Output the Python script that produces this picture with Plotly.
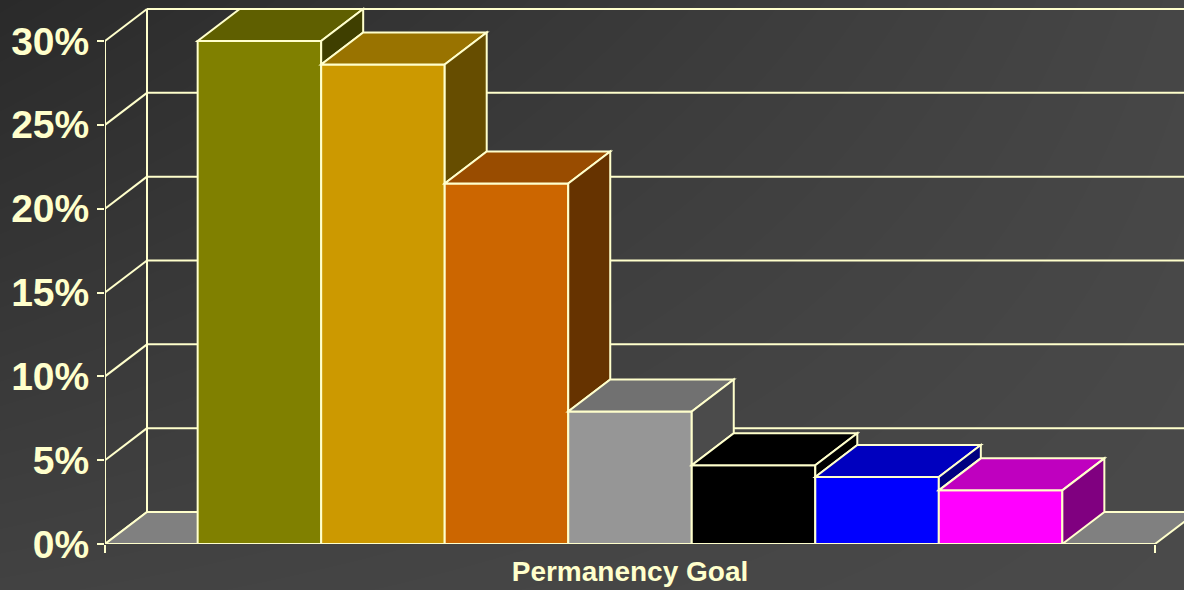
import plotly.graph_objects as go

# ---- data ----
category = ["Permanency Goal"]
series_names = ["Reunification", "Adoption", "Long-term foster care", "Guardianship",
                "Emancipation", "Relative placement", "Other"]
values = [30.0, 28.6, 21.5, 7.9, 4.7, 4.0, 3.2]
y_ticks = [0, 5, 10, 15, 20, 25, 30]

# ---- style ----
front_colors = ["#808000", "#CC9900", "#CC6600", "#969696", "#000000", "#0000FF", "#FF00FF"]
top_colors = ["#5F5F00", "#997300", "#994C00", "#717171", "#000000", "#0000BF", "#BF00BF"]
side_colors = ["#3F3F00", "#664D00", "#663300", "#4B4B4B", "#000000", "#000080", "#800080"]
edge = "#FFFFCC"
W, H = 1184, 590
L_PX, B_PX = 105, 46              # plot-area left / bottom offsets
CAT_PX = 1050                      # pixel width of the single category
PX_PER_PCT = (544 - 41) / 30.0
DEPTH_X_PX, DEPTH_Y_PX = 42, 32
bg_corners = {"tl": 42, "tr": 70, "bl": 66, "br": 74}

bargap = 1.5 / 8.5
n = len(values)
bw = (1 - bargap) / n
DX = DEPTH_X_PX / CAT_PX
DY = DEPTH_Y_PX / PX_PER_PCT
x_right = -0.5 + (W - L_PX) / CAT_PX
y_top = (H - B_PX) / PX_PER_PCT

fig = go.Figure()

# background gradient
fig.add_trace(go.Heatmap(
    x=[0, 1], y=[0, 1],
    z=[[bg_corners["bl"], bg_corners["br"]], [bg_corners["tl"], bg_corners["tr"]]],
    zsmooth="best", zmin=0, zmax=255,
    colorscale=[[0, "rgb(0,0,0)"], [1, "rgb(255,255,255)"]],
    showscale=False, hoverinfo="skip", xaxis="x", yaxis="y"))

for name, v, c in zip(series_names, values, front_colors):
    fig.add_trace(go.Bar(
        x=category, y=[v], name=name, marker=dict(color=c, line=dict(color=edge, width=2)),
        xaxis="x2", yaxis="y2", showlegend=False))

shapes = []
ln = dict(color=edge, width=2)
x0w = -0.5
# back wall & side wall lines
for t in y_ticks:
    shapes.append(dict(type="line", xref="x2", yref="y2", x0=x0w, y0=t, x1=x0w + DX, y1=t + DY,
                       line=ln, layer="below"))
    if t > 0:
        shapes.append(dict(type="line", xref="x2", yref="y2", x0=x0w + DX, y0=t + DY,
                           x1=x_right + 0.05, y1=t + DY, line=ln, layer="below"))
shapes.append(dict(type="line", xref="x2", yref="y2", x0=x0w + DX, y0=DY, x1=x0w + DX,
                   y1=y_ticks[-1] + DY, line=ln, layer="below"))
shapes.append(dict(type="line", xref="x2", yref="y2", x0=x0w, y0=0, x1=x0w,
                   y1=y_ticks[-1], line=ln, layer="below"))
# floor
shapes.append(dict(type="path", xref="x2", yref="y2",
                   path=f"M{x0w},0 L0.5,0 L{0.5 + DX},{DY} L{x0w + DX},{DY} Z",
                   fillcolor="#808080", line=ln, layer="below"))

# bar tops and sides
for i, v in enumerate(values):
    xl = -0.5 + bargap / 2 + i * bw
    xr = xl + bw
    shapes.append(dict(type="path", xref="x2", yref="y2",
                       path=f"M{xl},{v} L{xr},{v} L{xr + DX},{v + DY} L{xl + DX},{v + DY} Z",
                       fillcolor=top_colors[i], line=ln, layer="above"))
    vn = values[i + 1] if i + 1 < n else None
    if vn is not None and vn < v:
        path = f"M{xr},{vn} L{xr},{v} L{xr + DX},{v + DY} L{xr + DX},{vn + DY} Z"
    else:
        path = f"M{xr},0 L{xr},{v} L{xr + DX},{v + DY} L{xr + DX},{DY} Z"
    shapes.append(dict(type="path", xref="x2", yref="y2", path=path,
                       fillcolor=side_colors[i], line=ln, layer="above"))

font_fam = "Liberation Sans, Arial, sans-serif"
fig.update_layout(
    width=W, height=H, autosize=False,
    margin=dict(l=0, r=0, t=0, b=0, pad=0),
    paper_bgcolor="#3A3A3A", plot_bgcolor="rgba(0,0,0,0)",
    barmode="group", bargap=bargap, bargroupgap=0,
    shapes=shapes,
    xaxis=dict(domain=[0, 1], range=[0, 1], visible=False, fixedrange=True, automargin=False),
    yaxis=dict(domain=[0, 1], range=[0, 1], visible=False, fixedrange=True, automargin=False),
    xaxis2=dict(domain=[L_PX / W, 1], range=[-0.5, x_right], type="category",
                anchor="y2", showgrid=False, zeroline=False, showline=False, automargin=False,
                ticks="outside", ticklen=8, tickwidth=2, tickcolor=edge, tickson="boundaries",
                ticklabelstandoff=8,
                tickfont=dict(family=font_fam, size=28, color=edge, weight="bold")),
    yaxis2=dict(domain=[B_PX / H, 1], range=[0, y_top], anchor="x2", automargin=False,
                tickvals=y_ticks, ticktext=[f"{t}%" for t in y_ticks],
                showgrid=False, zeroline=False, showline=False,
                ticks="outside", ticklen=7, tickwidth=2, tickcolor=edge, ticklabelstandoff=0,
                tickfont=dict(family=font_fam, size=39, color=edge, weight="bold")),
    showlegend=False,
)

fig.write_html(
    "out.html",
    config={"responsive": False, "displayModeBar": False},
    post_script="document.body.style.margin='0';document.body.style.padding='0';"
                "document.body.style.overflow='hidden';",
)
